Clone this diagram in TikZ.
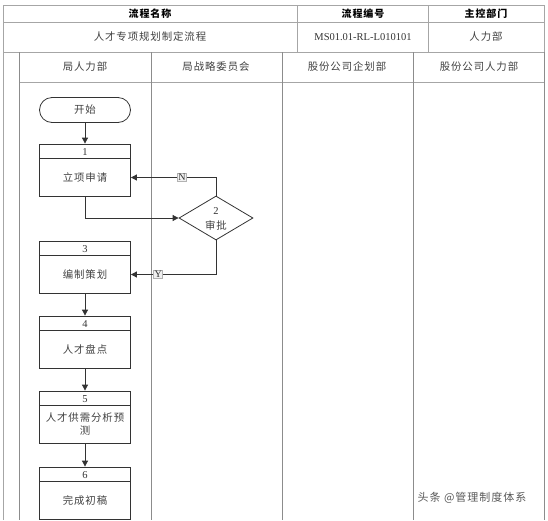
\documentclass[tikz,border=0pt]{standalone}
\usepackage{fontspec}
\setmainfont{Liberation Serif}
\newfontfamily\cjk[LetterSpace=9]{Noto Sans CJK SC}
\usepackage{tikz}
\usetikzlibrary{shapes.geometric, arrows.meta, positioning, calc}

\tikzset{
  tbl/.style={draw=black!35, line width=0.8pt},
  lane/.style={draw=black!45, line width=0.8pt},
  cn/.style={font=\cjk\fontsize{10.4}{13}\selectfont, text=black!75},
  num/.style={font=\fontsize{10.5}{12}\selectfont, text=black!80},
  proc/.style={draw=black!80, line width=0.8pt, minimum width=91pt, minimum height=52pt, inner sep=0pt},
  term/.style={draw=black!80, line width=0.8pt, minimum width=91pt, minimum height=25pt, rounded corners=12.5pt, inner sep=0pt},
  dec/.style={diamond, draw=black!80, line width=0.8pt, minimum width=74pt, minimum height=44pt, inner sep=0pt, aspect=1.7},
  yn/.style={draw=black!30, fill=black!6, inner sep=1pt, font=\fontsize{10}{11}\selectfont, text=black!80},
  flow/.style={draw=black!80, line width=0.8pt}
}

\begin{document}
\begin{tikzpicture}[x=1pt,y=-1pt,>={Triangle[length=6pt,width=6pt]}]
\useasboundingbox (0,0) rectangle (548,520);
% The header table
\draw[tbl] (3,5) rectangle (544,52);
\draw[tbl] (3,22) -- (544,22);
\draw[tbl] (297,5) -- (297,52);
\draw[tbl] (428,5) -- (428,52);
\node[cn, font=\cjk\bfseries\fontsize{10}{12.5}\selectfont, text=black] (h1) at (150,14) {流程名称};
\node[cn, font=\cjk\bfseries\fontsize{10}{12.5}\selectfont, text=black] (h2) at (363,14) {流程编号};
\node[cn, font=\cjk\bfseries\fontsize{10}{12.5}\selectfont, text=black] (h3) at (486,14) {主控部门};
\node[cn] (name) at (150,37) {人才专项规划制定流程};
\node[num] (code) at (363,37) {MS01.01-RL-L010101};
\node[cn] (dept) at (486,37) {人力部};
% The lanes
\draw[tbl] (3,52) -- (3,520);
\draw[tbl] (19,82) -- (544,82);
\foreach \x in {19,151,282,413,544}
  \draw[lane] (\x,52) -- (\x,520);
\node[cn] (l1) at (85,67) {局人力部};
\node[cn] (l2) at (216,67) {局战略委员会};
\node[cn] (l3) at (347,67) {股份公司企划部};
\node[cn] (l4) at (479,67) {股份公司人力部};
% Start
\node[term, cn] (start) at (85,110) {开始};
% Process boxes
\foreach \n/\t/\txt in {b1/144/立项申请, b3/241/编制策划, b4/316/人才盘点, b5/391/{人才供需分析预\\测}, b6/467/完成初稿} {
  \node[proc] (\n) at (85,\t+26) {};
  \draw[flow] (\n.north west) ++(0,15) -- ++(91,0);
  \node[cn, align=center] (\n t) at (85,\t+33.5) {\txt};
}
\node[num] (b1n) at (85,152) {1};
\node[num] (b3n) at (85,249) {3};
\node[num] (b4n) at (85,324) {4};
\node[num] (b5n) at (85,399) {5};
\node[num] (b6n) at (85,475) {6};
% Decision
\node[dec] (d2) at (216,218) {};
\node[num] (d2n) at (216,211) {2};
\node[cn] (d2t) at (216,225) {审批};
% Connectors
\coordinate (b1e) at (b1.east |- b1t);
\coordinate (b3e) at (b3.east |- b3t);
\coordinate (end) at (85,520);
\draw[flow, ->] (start) -- (b1);
\draw[flow, ->] (b1.south) |- (d2.west);
\draw[flow, ->] (d2.north) |- node[yn, pos=0.70] {N} (b1e);
\draw[flow, ->] (d2.south) |- node[yn, pos=0.84] {Y} (b3e);
\draw[flow, ->] (b3) -- (b4);
\draw[flow, ->] (b4) -- (b5);
\draw[flow, ->] (b5) -- (b6);
\draw[flow] (b6) -- (end);
% Watermark
\node[font=\cjk\fontsize{11}{12}\selectfont, text=black!65] (wm) at (472,498) {头条 @管理制度体系};
\end{tikzpicture}
\end{document}
